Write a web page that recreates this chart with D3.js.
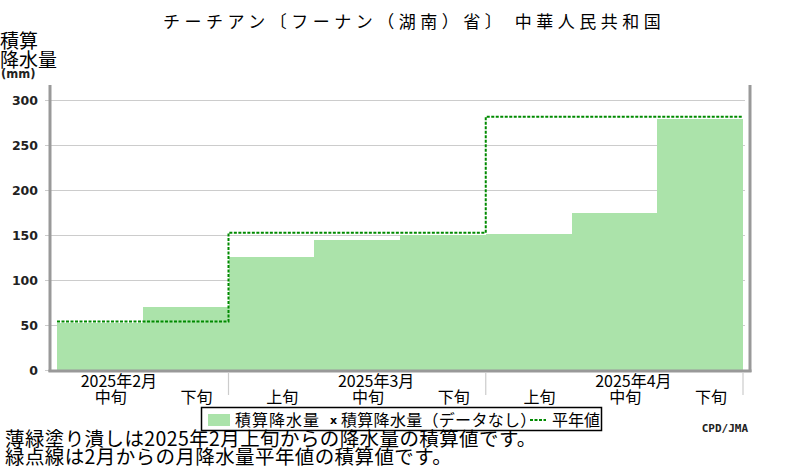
<!DOCTYPE html>
<html><head><meta charset="utf-8">
<script src="https://cdn.jsdelivr.net/npm/d3@7/dist/d3.min.js"></script>
<style>body{margin:0;background:#fff}svg{display:block}</style>
</head><body>
<script>
const title = "チーチアン〔フーナン（湖南）省〕 中華人民共和国";
const dekads = ["中旬","下旬","上旬","中旬","下旬","上旬","中旬","下旬"];
const precip = [52.6, 70, 126, 144.5, 150, 151.5, 174.5, 279];
const months = ["2025年2月","2025年3月","2025年4月"];
const monthStart = [0, 2, 5];
const monthEnd = [2, 5, 8];
const monthMid = [0, 3, 6];
const normal = [54, 152.5, 281.5];
const yTicks = [0, 50, 100, 150, 200, 250, 300];
const notes = ["薄緑塗り潰しは2025年2月上旬からの降水量の積算値です。","緑点線は2月からの月降水量平年値の積算値です。"];

const W = 800, H = 470;
const jp = "'Noto Sans CJK JP', sans-serif";
const svg = d3.select("body").append("svg").attr("width", W).attr("height", H);

const x = d3.scaleLinear().domain([0, 8]).range([57, 743]);
const y = d3.scaleLinear().domain([0, 300]).range([370, 100]);
const plotL = 50, plotR = 750, plotT = 85;

// title
svg.append("text").attr("x", 163).attr("y", 28).attr("font-family", jp).attr("font-size", 17)
  .attr("letter-spacing", 4.5).attr("fill", "#000").text(title);

// y label
svg.append("text").attr("x", 0).attr("y", 48).attr("font-family", jp).attr("font-size", 19).text("積算");
svg.append("text").attr("x", 0).attr("y", 67).attr("font-family", jp).attr("font-size", 19).text("降水量");
svg.append("text").attr("x", 1).attr("y", 78).attr("font-family", "DejaVu Sans").attr("font-weight", "bold").attr("font-size", 11.5).attr("fill", "#222").text("(mm)");

// gridlines
svg.append("g").selectAll("line").data(yTicks.filter(d => d > 0)).join("line")
  .attr("x1", plotL).attr("x2", 745).attr("y1", d => y(d) + 0.5).attr("y2", d => y(d) + 0.5)
  .attr("stroke", "#cccccc").attr("stroke-width", 1);
// tick marks
svg.append("g").selectAll("line").data(yTicks).join("line")
  .attr("x1", 45).attr("x2", plotL).attr("y1", d => y(d) + 0.5).attr("y2", d => y(d) + 0.5)
  .attr("stroke", "#cccccc");
// tick labels
svg.append("g").selectAll("text").data(yTicks).join("text")
  .attr("x", 38).attr("y", d => y(d) + 5).attr("text-anchor", "end")
  .attr("font-family", "DejaVu Sans").attr("font-weight", "bold").attr("font-size", 12.5)
  .attr("fill", "#222").text(d => d);

// bars
svg.append("g").attr("shape-rendering", "crispEdges").selectAll("rect").data(precip).join("rect")
  .attr("x", (d, i) => Math.round(x(i))).attr("width", (d, i) => Math.round(x(i + 1)) - Math.round(x(i)))
  .attr("y", d => y(d)).attr("height", d => y(0) - y(d))
  .attr("fill", "#abe3aa");

// normal dashed step line
const pts = [];
normal.forEach((v, k) => { pts.push([x(monthStart[k]), y(v)]); pts.push([x(monthEnd[k]), y(v)]); });
svg.append("path").attr("d", d3.line()(pts)).attr("fill", "none")
  .attr("stroke", "#008a00").attr("stroke-width", 2).attr("stroke-dasharray", "3,1.5");

// frame
svg.append("line").attr("x1", plotL).attr("x2", plotL).attr("y1", plotT).attr("y2", 372).attr("stroke", "#999").attr("stroke-width", 3);
svg.append("line").attr("x1", plotR).attr("x2", plotR).attr("y1", plotT).attr("y2", 372).attr("stroke", "#999").attr("stroke-width", 3);
svg.append("line").attr("x1", plotL - 1.5).attr("x2", plotR + 1.5).attr("y1", 371).attr("y2", 371).attr("stroke", "#999").attr("stroke-width", 3);

// month boundary ticks
svg.append("g").selectAll("line").data(monthEnd).join("line")
  .attr("x1", d => x(d)).attr("x2", d => x(d)).attr("y1", 373).attr("y2", 395)
  .attr("stroke", "#cccccc").attr("stroke-width", 1.2);

// dekad labels
svg.append("g").selectAll("text").data(dekads).join("text")
  .attr("x", (d, i) => x(i + 0.5) + 11).attr("y", 403).attr("text-anchor", "middle")
  .attr("font-family", jp).attr("font-size", 16).text(d => d);
// month labels
svg.append("g").selectAll("text").data(months).join("text")
  .attr("x", (d, i) => x(monthMid[i] + 0.5) + 19).attr("y", 387).attr("text-anchor", "middle")
  .attr("font-family", jp).attr("font-size", 16).text(d => d);

// legend
const lg = svg.append("g");
lg.append("rect").attr("x", 201.5).attr("y", 407.5).attr("width", 400).attr("height", 23)
  .attr("fill", "#fff").attr("stroke", "#000").attr("stroke-width", 1.5);
lg.append("rect").attr("x", 208).attr("y", 414).attr("width", 22).attr("height", 12).attr("fill", "#abe3aa");
lg.append("text").attr("x", 235).attr("y", 426).attr("font-family", jp).attr("font-size", 16).attr("letter-spacing", 1).text("積算降水量");
lg.append("text").attr("x", 330).attr("y", 424).attr("font-family", "DejaVu Sans").attr("font-weight", "bold").attr("font-size", 11).text("x");
lg.append("text").attr("x", 341).attr("y", 426).attr("font-family", jp).attr("font-size", 16).attr("letter-spacing", 0.3).text("積算降水量（データなし）");
lg.append("line").attr("x1", 530).attr("x2", 546).attr("y1", 420).attr("y2", 420)
  .attr("stroke", "#008a00").attr("stroke-width", 2).attr("stroke-dasharray", "3,1.5");
lg.append("text").attr("x", 552).attr("y", 426).attr("font-family", jp).attr("font-size", 16).text("平年値");

// credit
svg.append("text").attr("x", 748).attr("y", 432).attr("text-anchor", "end")
  .attr("font-family", "DejaVu Sans Mono").attr("font-weight", "bold").attr("font-size", 11).attr("fill", "#222").text("CPD/JMA");

// notes
svg.append("g").selectAll("text").data(notes).join("text")
  .attr("x", 5).attr("y", (d, i) => 446 + i * 18).attr("font-family", jp).attr("font-size", 19.5)
  .attr("letter-spacing", 0.4).text(d => d);
</script>
</body></html>
